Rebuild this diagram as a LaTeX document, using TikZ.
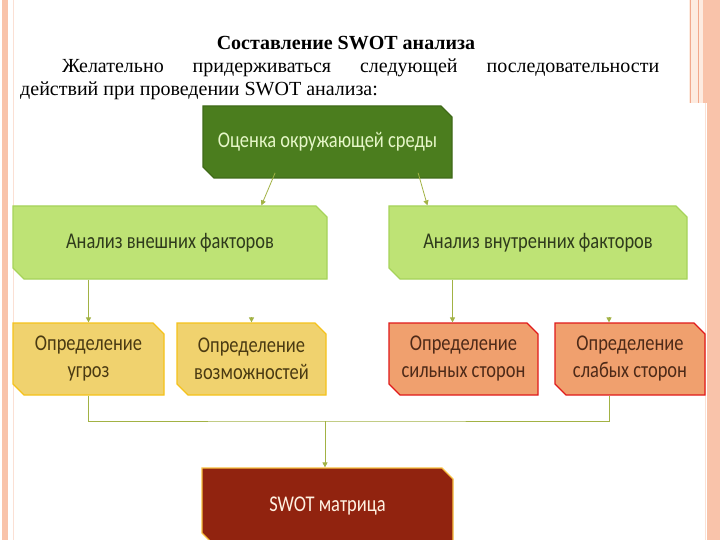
\documentclass[tikz,border=0pt]{standalone}
\usepackage{fontspec}
\setmainfont{Liberation Serif}
\newfontfamily\boxfont[FakeStretch=0.82]{Carlito}
\usetikzlibrary{shapes.misc,arrows.meta,calc}
\definecolor{stripe}{HTML}{F9C3AA}
\definecolor{stripeline}{HTML}{F2A88C}
\definecolor{palepink}{HTML}{FDEBE0}
\definecolor{faintline}{HTML}{FBE0D4}
\definecolor{dgreen}{HTML}{4B7D1E}
\definecolor{dgreentext}{HTML}{E6F7C8}
\definecolor{lgreen}{HTML}{BEE375}
\definecolor{lgreenline}{HTML}{A6D35A}
\definecolor{lgreentext}{HTML}{2F3B1C}
\definecolor{yfill}{HTML}{F0D26E}
\definecolor{yline}{HTML}{F5C21B}
\definecolor{ytext}{HTML}{4A3A12}
\definecolor{sfill}{HTML}{F0A06E}
\definecolor{sline}{HTML}{E01A1A}
\definecolor{stext}{HTML}{4E2A18}
\definecolor{rfill}{HTML}{91230F}
\definecolor{rline}{HTML}{F8C040}
\definecolor{rtext}{HTML}{FFF2E2}
\definecolor{conncol}{HTML}{A2B244}
\begin{document}
\begin{tikzpicture}[x=1pt,y=-1pt,
  box/.style={chamfered rectangle, chamfered rectangle corners={north east,south west},
    chamfered rectangle xsep=8pt, inner sep=0pt, align=center,
    font=\boxfont\fontsize{22.5}{27}\selectfont, line width=1.2pt},
  envbox/.style={box, fill=dgreen, draw=dgreen!85!black, text=dgreentext},
  anbox/.style={box, fill=lgreen, draw=lgreenline, text=lgreentext},
  ybox/.style={box, fill=yfill, draw=yline, text=ytext},
  sbox/.style={box, fill=sfill, draw=sline, text=stext},
  rbox/.style={box, fill=rfill, draw=rline, text=rtext},
  conn/.style={draw=conncol, line width=0.8pt, -{Triangle[width=5pt,length=5pt]}},
  bus/.style={draw=conncol, line width=0.8pt},
  txt/.style={inner sep=0pt, font=\fontsize{20}{24}\selectfont}
]
\clip (0,0) rectangle (720,540);
\fill[white] (0,0) rectangle (720,540);
% borders
\fill[stripe] (2,0) rectangle (8,540);
\draw[faintline, line width=0.8pt] (13,0) -- (13,540);
\fill[palepink] (689,0) rectangle (707,103);
\draw[stripeline, line width=0.8pt] (690,0) -- (690,103);
\draw[stripeline, line width=0.8pt] (698,0) -- (698,103);
\fill[stripe] (703,0) rectangle (720,103);
\fill[stripe] (707,103) rectangle (720,540);
\draw[faintline, line width=0.8pt] (705,103) -- (705,540);
% texts
\node[txt, font=\bfseries\fontsize{20}{24}\selectfont, anchor=base] (title) at (346,50) {Составление SWOT анализа};
\node[txt, anchor=base west] (l1) at (62,73) {\makebox[597pt][s]{Желательно придерживаться следующей последовательности}};
\node[txt, anchor=base west] (l2) at (20,96) {действий при проведении SWOT анализа:};
% boxes
\node[envbox, minimum width=249pt, minimum height=72pt] (env) at (327.5,142) {Оценка окружающей среды};
\node[anbox, minimum width=314pt, minimum height=73pt] (ext) at (170,242.5) {Анализ внешних факторов};
\node[anbox, minimum width=298pt, minimum height=73pt] (int) at (538,242.5) {Анализ внутренних факторов};
\node[ybox, minimum width=151pt, minimum height=72pt] (thr) at (88.5,359) {Определение\\угроз};
\node[ybox, minimum width=149pt, minimum height=72pt] (opp) at (251.5,359) {Определение\\возможностей};
\node[sbox, minimum width=149pt, minimum height=72pt] (str) at (463.5,359) {Определение\\сильных сторон};
\node[sbox, minimum width=150pt, minimum height=72pt] (wk) at (630,359) {Определение\\слабых сторон};
\node[rbox, minimum width=251pt, minimum height=76pt] (swot) at (327.5,506) {SWOT матрица};
% connectors
\draw[conn] ([xshift=67pt]env.south west) -- ([xshift=249pt]ext.north west);
\draw[conn] ([xshift=210pt]env.south west) -- ([xshift=39pt]int.north west);
\draw[conn] (ext.south -| thr.north) -- (thr.north);
\draw[conn] ([yshift=5pt]opp.north) -- (opp.north);
\draw[conn] ([xshift=-11pt]str.north |- int.south) -- ([xshift=-11pt]str.north);
\draw[conn] ([xshift=-21pt,yshift=5pt]wk.north) -- ([xshift=-21pt]wk.north);
\coordinate (busc) at (325,421);
\draw[bus] (thr.south) |- (busc) -| ([xshift=-21pt]wk.south);
\draw[conn] (busc) -- (busc |- swot.north);
\end{tikzpicture}
\end{document}
